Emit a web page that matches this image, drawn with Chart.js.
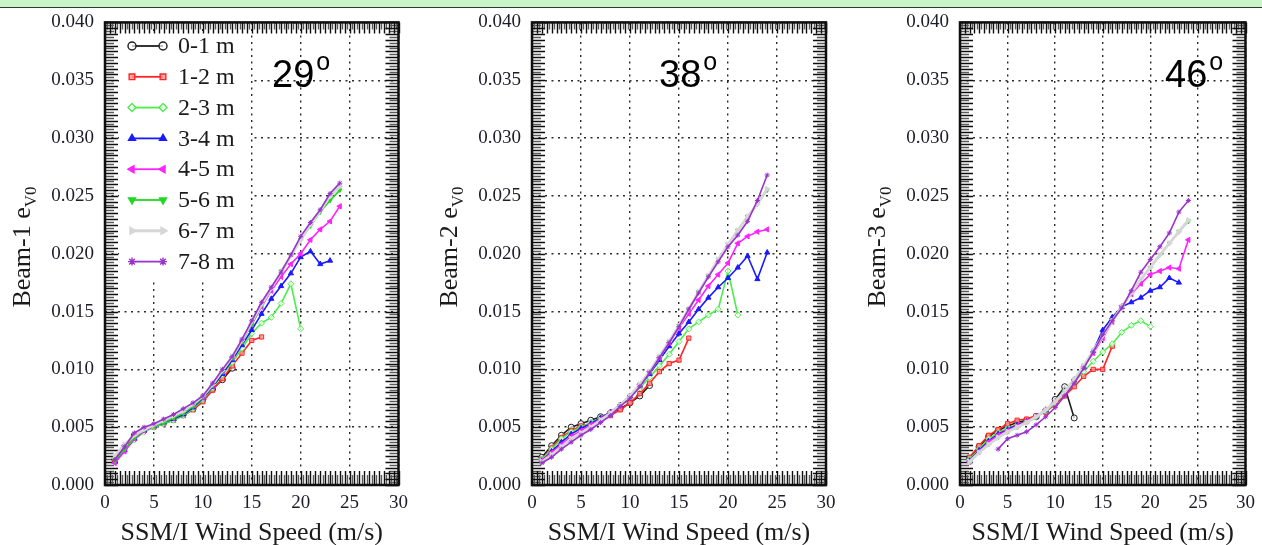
<!DOCTYPE html>
<html>
<head>
<meta charset="utf-8">
<script src="https://cdn.jsdelivr.net/npm/chart.js@4.4.1/dist/chart.umd.min.js"></script>
<style>
  html, body { margin: 0; padding: 0; background: #fff; }
  body { width: 1262px; height: 545px; position: relative; overflow: hidden; }
  #band { position: absolute; left: 0; top: 0; width: 1262px; height: 7px; background: #c8f6c8; border-bottom: 1px solid #2d3d2d; }
  canvas { position: absolute; top: 0; }
</style>
</head>
<body>
<div id="band"></div>
<canvas id="beam1" width="415" height="545" style="left:0px"></canvas>
<canvas id="beam2" width="430" height="545" style="left:415px"></canvas>
<canvas id="beam3" width="417" height="545" style="left:845px"></canvas>
<script>
// x values (m/s) shared by every series
const windSpeed = [1, 2, 3, 4, 5, 6, 7, 8, 9, 10, 11, 12, 13, 14, 15, 16, 17, 18, 19, 20, 21, 22, 23, 24];
const heightBins = ["0-1 m", "1-2 m", "2-3 m", "3-4 m", "4-5 m", "5-6 m", "6-7 m", "7-8 m"];
const xTicks = [0, 5, 10, 15, 20, 25, 30];
const yTicks = ["0.000", "0.005", "0.010", "0.015", "0.020", "0.025", "0.030", "0.035", "0.040"];

// Beam-1, 29 deg
const b1_01 = [.0022, .0033, .0043, .0048, .0051, .0054, .0057, .0061, .0066, .0074, .0083, .0091, .0101];
const b1_12 = [.0021, .0032, .0041, .0047, .0050, .0053, .0056, .0060, .0065, .0072, .0082, .0092, .0103, .0114, .0125, .0128];
const b1_23 = [.0023, .0030, .0039, .0046, .0050, .0053, .0056, .0060, .0066, .0074, .0084, .0095, .0106, .0118, .0131, .0140, .0145, .0157, .0174, .0135];
const b1_34 = [.0020, .0030, .0040, .0047, .0051, .0054, .0057, .0061, .0067, .0075, .0085, .0096, .0108, .0121, .0134, .0148, .0161, .0172, .0183, .0197, .0202, .0191, .0194];
const b1_45 = [.0019, .0029, .0040, .0047, .0051, .0055, .0058, .0063, .0069, .0076, .0086, .0098, .0110, .0124, .0139, .0154, .0168, .0180, .0191, .0200, .0212, .0221, .0228, .0241];
const b1_56 = [.0021, .0031, .0041, .0048, .0051, .0054, .0058, .0062, .0068, .0076, .0086, .0098, .0110, .0124, .0139, .0155, .0170, .0185, .0199, .0212, .0224, .0236, .0246, .0255];
const b1_67 = [.0025, .0035, .0043, .0048, .0052, .0056, .0060, .0064, .0070, .0077, .0087, .0099, .0111, .0125, .0141, .0156, .0170, .0184, .0198, .0212, .0225, .0237, .0250, .0258];
const b1_78 = [.0022, .0033, .0045, .0050, .0053, .0057, .0061, .0066, .0071, .0077, .0088, .0100, .0111, .0126, .0142, .0158, .0171, .0184, .0199, .0215, .0227, .0238, .0252, .0261];

// Beam-2, 38 deg
const b2_01 = [.0024, .0034, .0043, .0050, .0053, .0056, .0059, .0062, .0066, .0071, .0077, .0086];
const b2_12 = [.0022, .0032, .0041, .0047, .0051, .0053, .0056, .0060, .0065, .0071, .0079, .0088, .0098, .0105, .0108, .0127];
const b2_23 = [.0022, .0031, .0040, .0046, .0050, .0054, .0058, .0063, .0069, .0076, .0084, .0093, .0103, .0113, .0124, .0135, .0141, .0147, .0152, .0185, .0147];
const b2_34 = [.0021, .0029, .0037, .0044, .0049, .0053, .0058, .0063, .0069, .0077, .0086, .0096, .0108, .0120, .0131, .0141, .0152, .0162, .0171, .0179, .0188, .0198, .0178, .0201];
const b2_45 = [.0021, .0028, .0035, .0042, .0047, .0052, .0057, .0063, .0069, .0077, .0087, .0098, .0110, .0123, .0136, .0148, .0160, .0172, .0182, .0192, .0209, .0215, .0219, .0221];
const b2_56 = [.0020, .0026, .0033, .0040, .0045, .0050, .0056, .0062, .0069, .0077, .0087, .0098, .0111, .0124, .0138, .0152, .0167, .0181, .0195, .0208, .0220, .0232, .0243, .0255];
const b2_67 = [.0020, .0026, .0033, .0040, .0045, .0050, .0056, .0062, .0069, .0077, .0087, .0098, .0111, .0124, .0138, .0152, .0167, .0181, .0195, .0208, .0220, .0232, .0243, .0256];
const b2_78 = [.0019, .0024, .0031, .0037, .0043, .0048, .0054, .0060, .0068, .0075, .0085, .0097, .0110, .0123, .0137, .0152, .0166, .0180, .0193, .0206, .0216, .0228, .0246, .0268];

// Beam-3, 46 deg
const b3_01 = [.0023, .0033, .0042, .0047, .0051, .0054, .0056, .0059, .0064, .0074, .0085, .0058];
const b3_12 = [.0024, .0034, .0043, .0048, .0053, .0056, .0057, .0060, .0063, .0070, .0077, .0085, .0094, .0100, .0100, .0120];
const b3_23 = [.0022, .0031, .0040, .0045, .0049, .0052, .0055, .0059, .0064, .0071, .0080, .0089, .0098, .0107, .0115, .0122, .0132, .0138, .0142, .0137];
const b3_34 = [.0021, .0030, .0038, .0044, .0048, .0052, .0055, .0059, .0065, .0072, .0081, .0091, .0102, .0116, .0134, .0145, .0154, .0158, .0162, .0168, .0171, .0179, .0175];
const b3_45 = [.0020, .0029, .0037, .0043, .0047, .0051, .0055, .0059, .0065, .0072, .0081, .0091, .0102, .0114, .0127, .0141, .0155, .0165, .0174, .0182, .0185, .0188, .0187, .0212];
const b3_56 = [.0020, .0028, .0035, .0041, .0046, .0050, .0054, .0059, .0065, .0072, .0081, .0091, .0103, .0116, .0129, .0142, .0154, .0166, .0178, .0188, .0199, .0209, .0219, .0228];
const b3_67 = [.0020, .0028, .0035, .0041, .0046, .0050, .0054, .0059, .0065, .0072, .0081, .0091, .0103, .0116, .0129, .0142, .0154, .0166, .0178, .0188, .0199, .0209, .0219, .0229];
const b3_78 = [null, null, null, .0031, .0040, .0043, .0046, .0052, .0059, .0067, .0077, .0088, .0101, .0115, .0130, .0142, .0153, .0168, .0184, .0195, .0206, .0218, .0236, .0246];

// styles
const seriesColors = ["#1e1e1e", "#ff2424", "#4ded4d", "#1a1aff", "#ff22ff", "#1fd81f", "#d6d6d6", "#9933cc"];
const pointFills = ["rgba(255,255,255,0.7)", "rgba(255,150,150,0.8)", "rgba(255,255,255,0.7)", "#1a1aff", "#ff22ff", "#1fd81f", "#d6d6d6", "#9933cc"];
const pointStyles = ["circle", "rect", "rectRot", "triangle", "triangle", "triangle", "triangle", "star"];
const pointRotations = [0, 0, 0, 0, -90, 180, 90, 0];
const drawOrder = [7, 6, 5, 4, 3, 2, 1, 0];
const serif = "'Liberation Serif', 'Times New Roman', serif";

// dense minor ticks + heavy frame round the plot area
const frameTicks = {
  id: "frameTicks",
  beforeDatasetsDraw(chart) {
    const { ctx, chartArea: a, scales: { x, y } } = chart;
    ctx.save();
    ctx.lineWidth = 1.4;
    const pass = (odd, color) => {
      ctx.strokeStyle = color;
      ctx.beginPath();
      for (let i = 0; i <= 120; i++) {
        if ((i % 2 === 1) !== odd) continue;
        const px = Math.round(x.getPixelForValue(i / 4)) + 0.5;
        const len = odd ? 10 : 14;
        ctx.moveTo(px, a.bottom); ctx.lineTo(px, a.bottom - len);
        ctx.moveTo(px, a.top); ctx.lineTo(px, a.top + len - 3);
      }
      for (let i = 0; i <= 160; i++) {
        if ((i % 2 === 1) !== odd) continue;
        const py = Math.round(y.getPixelForValue(i / 4000)) + 0.5;
        const len = odd ? 9 : 13;
        ctx.moveTo(a.left, py); ctx.lineTo(a.left + len, py);
        ctx.moveTo(a.right, py); ctx.lineTo(a.right - len, py);
      }
      ctx.stroke();
    };
    pass(true, "#5a5a5a");
    pass(false, "#0e0e0e");
    ctx.strokeStyle = "#0e0e0e";
    ctx.lineWidth = 2.5;
    ctx.strokeRect(a.left, a.top, a.right - a.left, a.bottom - a.top);
    ctx.restore();
  }
};

// axis titles and the incidence angle label
const panelText = {
  id: "panelText",
  afterDraw(chart, args, opts) {
    const { ctx, chartArea: a } = chart;
    ctx.save();
    ctx.fillStyle = "#1b1b1b";
    // x title
    ctx.font = "26px " + serif;
    ctx.textAlign = "center";
    ctx.textBaseline = "alphabetic";
    ctx.fillText("SSM/I Wind Speed (m/s)", (a.left + a.right) / 2, 540);
    // y title, rotated, with subscript
    ctx.save();
    ctx.translate(a.left - 75, 247);
    ctx.rotate(-Math.PI / 2);
    ctx.textAlign = "left";
    const main = "Beam-" + opts.beam + " e";
    ctx.font = "26px " + serif;
    const w1 = ctx.measureText(main).width;
    ctx.font = "17px " + serif;
    const w2 = ctx.measureText("V0").width;
    const x0 = -(w1 + w2) / 2;
    ctx.font = "26px " + serif;
    ctx.fillText(main, x0, 0);
    ctx.font = "17px " + serif;
    ctx.fillText("V0", x0 + w1, 6);
    ctx.restore();
    // angle
    ctx.fillStyle = "#000";
    ctx.textAlign = "left";
    ctx.font = "38px 'Liberation Sans', Arial, sans-serif";
    const ax = opts.angleX - opts.canvasLeft;
    ctx.fillText(opts.angle, ax, 87);
    const wa = ctx.measureText(opts.angle).width;
    ctx.font = "25px 'Liberation Sans', Arial, sans-serif";
    ctx.fillText("o", ax + wa + 2, 70);
    ctx.restore();
  }
};

// legend drawn inside the first panel, on a white box that hides the grid
const insideLegend = {
  id: "insideLegend",
  afterDraw(chart, args, opts) {
    if (!opts.show) return;
    const { ctx, chartArea: a } = chart;
    ctx.save();
    ctx.fillStyle = "#fff";
    ctx.fillRect(a.left + 14, a.top + 12, 250 - a.left - 14, 280 - a.top - 12);
    chart.data.datasets.forEach((ds, i) => {
      const yy = 46 + i * 30.8;
      ctx.strokeStyle = ds.borderColor;
      ctx.lineWidth = i === 6 ? 3 : 1.8;
      ctx.beginPath();
      ctx.moveTo(132, yy); ctx.lineTo(163, yy);
      ctx.stroke();
      ctx.lineWidth = 1.4;
      ctx.fillStyle = ds.pointBackgroundColor;
      [132, 163].forEach(px => {
        Chart.helpers.drawPoint(ctx, {
          pointStyle: ds.pointStyle, rotation: ds.pointRotation,
          radius: 4, borderWidth: 1.4
        }, px, yy);
      });
      ctx.fillStyle = "#1b1b1b";
      ctx.font = "24px " + serif;
      ctx.textAlign = "left";
      ctx.textBaseline = "middle";
      ctx.fillText(ds.label, 178, yy + 1);
    });
    ctx.restore();
  }
};

function buildChart(id, series, p) {
  const datasets = series.map((vals, i) => ({
    label: heightBins[i],
    data: vals.map((v, j) => (v == null ? null : { x: windSpeed[j], y: v })).filter(Boolean),
    borderColor: seriesColors[i],
    backgroundColor: pointFills[i],
    pointBackgroundColor: pointFills[i],
    pointBorderColor: seriesColors[i],
    borderWidth: i === 6 ? 2.8 : 1.6,
    pointStyle: pointStyles[i],
    pointRotation: pointRotations[i],
    pointRadius: i === 7 ? 2.5 : (i === 5 ? 2.5 : 3),
    pointBorderWidth: 1,
    order: drawOrder[i],
    tension: 0
  }));

  return new Chart(document.getElementById(id), {
    type: "line",
    data: { datasets },
    options: {
      responsive: false,
      animation: false,
      layout: { padding: { top: 15, right: p.padRight, left: 0, bottom: 0 } },
      scales: {
        x: {
          type: "linear", min: 0, max: 30,
          afterFit: (s) => { s.height = 60; },
          afterBuildTicks: (s) => { s.ticks = xTicks.map(v => ({ value: v })); },
          ticks: {
            callback: (v) => String(v),
            font: { family: serif, size: 19 }, color: "#1c1c2a",
            padding: 7, maxRotation: 0, autoSkip: false
          },
          grid: { color: "#2a2a2a", lineWidth: 1.4, drawTicks: false },
          border: { display: false, dash: [2, 4.5] }
        },
        y: {
          min: 0, max: 0.04,
          afterFit: (s) => { s.width = p.frameLeft - p.canvasLeft; },
          afterBuildTicks: (s) => { s.ticks = yTicks.map(t => ({ value: parseFloat(t) })); },
          ticks: {
            callback: (v, idx) => yTicks[idx],
            font: { family: serif, size: 19 }, color: "#1c1c2a",
            padding: 11, autoSkip: false
          },
          grid: { color: "#2a2a2a", lineWidth: 1.4, drawTicks: false },
          border: { display: false, dash: [2, 4.5] }
        }
      },
      plugins: {
        legend: { display: false },
        tooltip: { enabled: false },
        panelText: { beam: p.beam, angle: p.angle, angleX: p.angleX, canvasLeft: p.canvasLeft },
        insideLegend: { show: p.legend }
      }
    },
    plugins: [frameTicks, panelText, insideLegend]
  });
}

buildChart("beam1", [b1_01, b1_12, b1_23, b1_34, b1_45, b1_56, b1_67, b1_78],
  { beam: 1, angle: "29", angleX: 272, canvasLeft: 0, frameLeft: 105, padRight: 15, legend: true });
buildChart("beam2", [b2_01, b2_12, b2_23, b2_34, b2_45, b2_56, b2_67, b2_78],
  { beam: 2, angle: "38", angleX: 659, canvasLeft: 415, frameLeft: 532, padRight: 19, legend: false });
buildChart("beam3", [b3_01, b3_12, b3_23, b3_34, b3_45, b3_56, b3_67, b3_78],
  { beam: 3, angle: "46", angleX: 1165, canvasLeft: 845, frameLeft: 960, padRight: 13, legend: false });
</script>
</body>
</html>
